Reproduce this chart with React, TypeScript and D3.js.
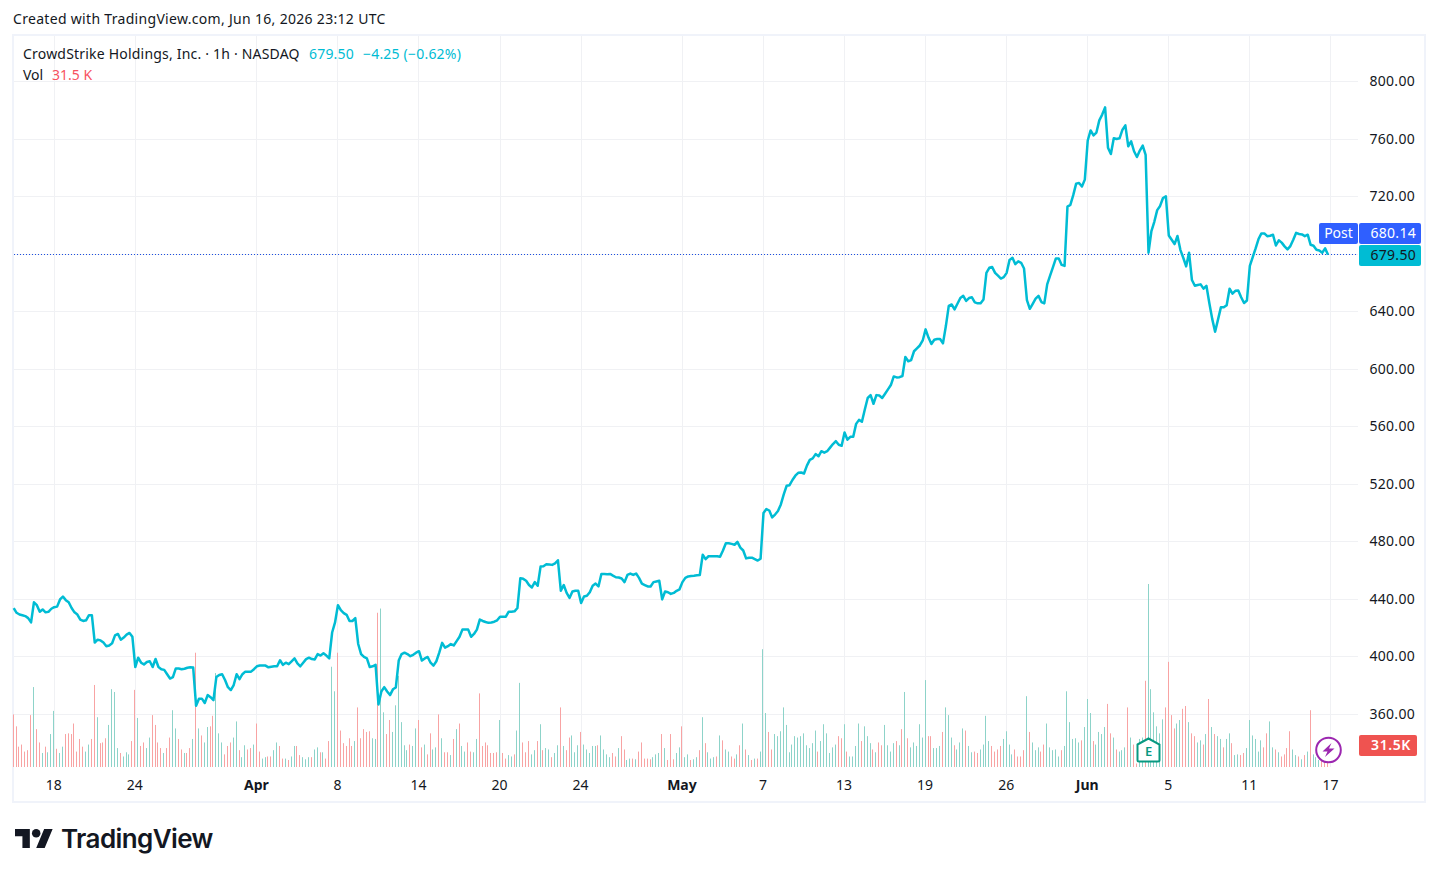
import * as d3 from "d3";

const W = 1438, H = 877;
const FONT = "'Noto Sans', sans-serif";
const INK = "#131722";
const TEAL = "#00bcd4";

// one row per session, 7 hourly bars each, starting Mar 16
const closes = [
  434, 430.7, 429.5, 429, 428.4, 427, 424,
  438, 436, 431.4, 433, 431, 431.4, 433.5,
  434.6, 435, 440, 442, 439.5, 438, 434,
  431, 429.5, 426, 425, 425.5, 429, 429,
  410, 412, 411.5, 410, 407.5, 408, 409.5,
  415, 416, 412, 413.5, 415.5, 416.7, 414,
  393, 399.5, 396, 394.8, 396.5, 397, 393,
  398.6, 393, 391.5, 391, 388, 385, 386,
  392, 392, 391.5, 391.8, 392.5, 392.8, 392.6,
  366, 371, 371, 368, 373.5, 372, 370,
  386, 387.5, 388, 384, 379, 377, 380.5,
  388, 384.6, 388, 389.8, 389.8, 389.8, 391.5,
  393.5, 394, 394, 394, 392.8, 393.2, 393.5,
  393.5, 397.7, 394.5, 396, 395, 397, 399,
  395.5, 393.5, 396, 398.5, 399.5, 398.5, 398.3,
  402, 401, 402.5, 401, 399, 417, 424,
  436, 432.5, 430.5, 429.3, 425, 425, 427,
  409, 402, 400, 399, 393, 393.5, 394.6,
  367, 376, 379, 376, 373.5, 377.5, 378.8,
  397.5, 402, 403, 402, 400.5, 401.5, 403,
  404, 397.5, 399, 400, 396, 394, 397,
  403, 409.8, 406.5, 407.5, 409, 408, 411,
  414, 419, 419, 419, 414, 416, 419,
  426, 425, 424.3, 423.7, 424, 424.5, 425.5,
  428, 428, 428, 431.5, 431.5, 431.7, 434,
  454.7, 454.3, 453, 450, 448.3, 452, 449.5,
  462.8, 463, 464.4, 464.3, 464, 465, 467.2,
  446, 450, 444.5, 441, 445.5, 446, 446,
  437.5, 442, 442.5, 445, 449.5, 451, 449,
  457.7, 457.7, 457.5, 457.7, 456.5, 455.4, 455.2,
  454.5, 452, 457, 458, 457, 458, 455,
  451, 450, 449, 449, 452, 452.5, 453,
  440, 445.5, 445, 443.8, 444.5, 446, 447,
  452, 455, 456, 456.3, 456.5, 456.8, 457,
  471, 468, 470, 470, 470, 470, 469.7,
  474, 479, 479, 478.6, 478, 480, 476,
  474, 468.5, 469, 469, 468, 467, 468.3,
  500, 502.8, 501.8, 497, 499, 501.5, 506,
  513, 519, 519.4, 523, 526, 528, 528.2,
  527.5, 533, 537, 538, 541, 539.5, 543,
  542, 543, 545.5, 548, 550, 547.5, 546.8,
  556, 551, 553, 553, 562, 564.8, 563.5,
  572, 580, 582, 576, 582, 581.7, 580,
  583, 586, 589, 595, 594.3, 594.5, 595.3,
  608.5, 605.5, 606.4, 612.5, 614.5, 616.5, 620,
  627.7, 622, 617.5, 620.5, 621, 621, 618,
  630, 644, 645, 641.6, 645.5, 649.5, 651,
  647.5, 649.5, 650, 646.5, 645.8, 645.8, 648.5,
  667, 670.5, 671, 667, 665, 663, 664,
  667, 676, 677.5, 673, 675, 674, 670,
  648, 642, 645.5, 649, 651, 646.7, 645.8,
  659, 665, 671, 677, 677, 672.5, 671.8,
  713, 714.2, 721, 729, 729.5, 727, 731.8,
  759, 766, 762.5, 764.5, 773, 777, 782,
  754, 749.6, 760.6, 760, 760.5, 766.5, 769.5,
  755, 758.4, 751.5, 747.5, 752, 755.5, 749,
  681, 696, 702.5, 710.6, 713.5, 719, 720.2,
  693, 690, 687, 692.6, 683, 677.5, 671.5,
  681, 662, 658, 658.5, 659, 656, 658,
  646, 635, 626, 634.5, 643, 643, 644.5,
  656, 652.5, 654.5, 654.7, 650, 646, 647.8,
  671.8, 678, 684, 690.5, 694.4, 694.4, 692.5,
  692.8, 693.5, 686, 689.6, 688, 685.4, 683.3,
  685.6, 690, 694.8, 694, 693.7, 692.5, 693.5,
  686.5, 685.8, 683, 682.5, 681, 684, 679.5,
];

// thousands of shares
const volumes = [
  75, 58, 29, 32, 22, 24, 74,
  114, 54, 35, 20, 29, 21, 47,
  80, 26, 20, 29, 47, 48, 47,
  62, 22, 40, 29, 22, 32, 40,
  117, 71, 34, 35, 41, 60, 111,
  107, 27, 20, 15, 21, 18, 37,
  110, 70, 30, 35, 27, 42, 74,
  60, 35, 27, 20, 27, 42, 81,
  55, 40, 25, 20, 20, 27, 40,
  163, 55, 45, 35, 57, 58, 73,
  134, 48, 35, 18, 30, 35, 42,
  65, 24, 14, 31, 25, 27, 32,
  62, 22, 12, 14, 15, 15, 24,
  35, 30, 12, 12, 10, 15, 30,
  30, 17, 14, 11, 14, 14, 25,
  28, 21, 21, 12, 37, 143, 108,
  163, 52, 34, 30, 41, 30, 37,
  85, 41, 54, 50, 51, 41, 40,
  220, 226, 78, 47, 67, 50, 88,
  130, 64, 31, 24, 32, 30, 55,
  67, 28, 32, 18, 48, 25, 28,
  75, 41, 21, 21, 17, 40, 54,
  62, 30, 22, 35, 22, 21, 40,
  105, 30, 35, 31, 20, 20, 21,
  67, 20, 12, 17, 15, 18, 52,
  120, 35, 21, 37, 18, 24, 37,
  61, 24, 27, 25, 14, 20, 31,
  85, 30, 24, 42, 45, 21, 31,
  50, 32, 25, 20, 30, 30, 31,
  45, 25, 18, 14, 20, 15, 27,
  44, 25, 10, 12, 12, 11, 22,
  35, 12, 12, 11, 14, 18, 20,
  47, 27, 10, 47, 11, 20, 28,
  58, 14, 18, 10, 11, 14, 24,
  71, 34, 21, 12, 14, 15, 45,
  38, 25, 22, 15, 12, 18, 31,
  62, 25, 17, 10, 12, 12, 22,
  168, 77, 50, 25, 47, 44, 51,
  85, 60, 21, 32, 44, 42, 44,
  48, 31, 27, 34, 52, 22, 37,
  61, 48, 20, 28, 32, 44, 41,
  61, 22, 15, 15, 30, 62, 37,
  58, 44, 34, 25, 21, 35, 31,
  60, 31, 22, 34, 37, 31, 54,
  107, 41, 28, 35, 30, 61, 42,
  124, 44, 44, 27, 27, 30, 50,
  85, 74, 42, 31, 25, 35, 55,
  52, 30, 21, 22, 20, 25, 32,
  73, 37, 30, 22, 25, 30, 40,
  51, 32, 18, 25, 15, 15, 24,
  101, 50, 35, 24, 28, 22, 32,
  62, 28, 24, 25, 15, 24, 30,
  108, 64, 40, 41, 35, 38, 57,
  97, 77, 37, 32, 50, 47, 57,
  90, 48, 42, 25, 22, 24, 28,
  85, 42, 32, 5, 40, 42, 123,
  261, 111, 78, 58, 48, 68, 85,
  150, 74, 55, 62, 67, 83, 87,
  64, 48, 44, 35, 38, 32, 47,
  97, 57, 47, 44, 40, 28, 40,
  48, 34, 17, 18, 17, 20, 27,
  67, 45, 40, 22, 38, 28, 48,
  65, 28, 25, 21, 15, 18, 27,
  51, 25, 17, 15, 11, 17, 22,
  81, 18, 14, 10, 22, 24, 31.5,
];

// r = down bar, g = up bar
const volumeDir = [
  "rrrrrrr", "grrgrgg", "grggrrr", "rrrrggr", "rgrrrgg", "ggrgggr", "rgrrggr", "rrrgrrg", "grrgrrg", "rgrggrr",
  "gggrrrg", "grggrrg", "rrggrrg", "grrgrgg", "rrgggrg", "grgrrgg", "rrrrrrg", "rrrrrgg", "rggrrgg", "ggggrgg",
  "rrgrrgg", "rgrrgrg", "rggrrgg", "rrrrrrr", "grrggrg", "grrrggr", "grggrgg", "rgrrggg", "rgggggr", "ggggrrg",
  "rrggrgr", "rrrrggg", "rgrrrgg", "rggrggr", "grgggrg", "rggrrgr", "grgrgrg", "ggrrggg", "ggggggg", "gggggrg",
  "gggggrr", "grggggr", "gggrgrr", "ggggrgr", "grggggg", "grrgggr", "gggrggg", "rggrrgg", "ggrrrrg", "gggrrrr",
  "grgggrr", "gggggrg", "gggggrg", "ggrgggg", "rrgrggg", "rgrrggr", "ggggggr", "rrrggrr", "grrggrg", "rgrggrg",
  "grggrrg", "gggggrr", "ggrgrrr", "rggrgrg", "rgggrrr",
].join("");

const priceTicks = [800, 760, 720, 640, 600, 560, 520, 480, 440, 400, 360];
const priceGrid = [800, 760, 720, 680, 640, 600, 560, 520, 480, 440, 400, 360];
const timeTickBars = [14, 42, 84, 112, 140, 168, 196, 231, 259, 287, 315, 343, 371, 399, 427, 455];
const timeTickLabels = ["18", "24", "Apr", "8", "14", "20", "24", "May", "7", "13", "19", "26", "Jun", "5", "11", "17"];
const boldLabels = ["Apr", "May", "Jun"];

const lastClose = 679.5;
const postPrice = "680.14";

export default function App() {
  const x = d3.scaleLinear([0, 455], [13.2, 1330.4]);
  const y = d3.scaleLinear([360, 800], [714.5, 81.5]);
  const vol = d3.scaleLinear([0, 261], [767, 584]);

  const line = d3.line<number>().x((_, i) => x(i) + 0.5).y((v) => y(v));
  const lastY = Math.floor(y(lastClose)) + 0.5;

  return (
    <svg width={W} height={H} style={{ position: "absolute", left: 0, top: 0, background: "#fff", fontFamily: FONT }}>
      <text x={13} y={24} fontSize={14} letterSpacing={0.31} fill={INK}>Created with TradingView.com, Jun 16, 2026 23:12 UTC</text>

      {/* chart frame */}
      <rect x={13} y={35} width={1412} height={767} fill="none" stroke="#f0f3fa" strokeWidth={2} />

      {/* grid */}
      {priceGrid.map((p) => (
        <line key={p} x1={14} x2={1358} y1={Math.floor(y(p)) + 0.5} y2={Math.floor(y(p)) + 0.5} stroke="#f0f1f4" />
      ))}
      {timeTickBars.map((b) => (
        <line key={b} x1={Math.floor(x(b) + 0.5) + 0.5} x2={Math.floor(x(b) + 0.5) + 0.5} y1={36} y2={767} stroke="#f0f1f4" />
      ))}

      {/* volume */}
      {volumes.map((v, i) => (
        <rect
          key={i}
          x={Math.floor(x(i))}
          y={vol(v)}
          width={1}
          height={767 - vol(v)}
          fill={volumeDir[i] === "g" ? "#8dd3c9" : "#f8a3a3"}
        />
      ))}

      {/* last price line */}
      <line x1={14} x2={1358} y1={lastY} y2={lastY} stroke="#1c4fe0" strokeDasharray="1 2" />

      <path d={line(closes) ?? ""} fill="none" stroke={TEAL} strokeWidth={2.5} strokeLinejoin="round" />

      {/* legend */}
      <text x={23} y={59} fontSize={14} letterSpacing={0.2} fill={INK}>CrowdStrike Holdings, Inc. · 1h · NASDAQ</text>
      <text x={309} y={59} fontSize={14} letterSpacing={0.2} fill={TEAL}>679.50</text>
      <text x={363} y={59} fontSize={14} letterSpacing={0.2} fill={TEAL}>−4.25 (−0.62%)</text>
      <text x={23} y={80} fontSize={14} fill={INK}>Vol</text>
      <text x={52} y={80} fontSize={14} fill="#f7525f">31.5 K</text>

      {/* price axis */}
      {priceTicks.map((p) => (
        <text key={p} x={1415} y={y(p) + 4.5} fontSize={14} letterSpacing={0.3} fill={INK} textAnchor="end">{p.toFixed(2)}</text>
      ))}

      {/* time axis */}
      {timeTickBars.map((b, i) => (
        <text
          key={b}
          x={x(b)}
          y={790}
          fontSize={14}
          fill={INK}
          textAnchor="middle"
          fontWeight={boldLabels.includes(timeTickLabels[i]) ? 700 : 400}
        >
          {timeTickLabels[i]}
        </text>
      ))}

      {/* price labels */}
      <rect x={1319} y={223} width={39} height={21} rx={2} fill="#2f5fff" />
      <text x={1338.5} y={238} fontSize={14} fill="#fff" textAnchor="middle">Post</text>
      <rect x={1359} y={223} width={62} height={21} rx={2} fill="#2f5fff" />
      <text x={1416} y={238} fontSize={14} letterSpacing={0.3} fill="#fff" textAnchor="end">{postPrice}</text>
      <rect x={1359} y={245} width={62} height={21} rx={2} fill={TEAL} />
      <text x={1416} y={260} fontSize={14} letterSpacing={0.3} fill={INK} textAnchor="end">{lastClose.toFixed(2)}</text>
      <rect x={1359} y={735} width={58} height={21} rx={2} fill="#ef5350" />
      <text x={1411} y={750} fontSize={14} letterSpacing={0.6} fill="#fff" textAnchor="end" fontWeight={600}>31.5K</text>

      {/* earnings marker */}
      <g transform="translate(1148.5,750)">
        <path d="M-11 -5.5 L0 -11.5 L11 -5.5 L11 10 Q11 11.5 9.5 11.5 L-9.5 11.5 Q-11 11.5 -11 10 Z" fill="#fff" stroke="#089981" strokeWidth={2} />
        <text x={0} y={5.5} fontSize={13} fontWeight={600} fill="#089981" textAnchor="middle">E</text>
      </g>

      {/* dividends/news bolt marker */}
      <g transform="translate(1328.5,750)">
        <circle r={12.3} fill="#fff" stroke="#9c27b0" strokeWidth={2} />
        <path d="M3 -7 L-6 1.5 L-1 1.5 L-3.5 7 L6 -1.5 L0.5 -1.5 Z" fill="#9c27b0" />
      </g>

      {/* logo */}
      <g transform="translate(15,824.7) scale(1.06)" fill="#131722">
        <path d="M14 22H7V11H0V4h14v18zM28 22h-8l7.5-18h8L28 22z" />
        <circle cx={20} cy={8} r={4} />
      </g>
      <text x={61} y={848} fontFamily="Inter, sans-serif" fontSize={26} fontWeight={600} letterSpacing={-0.6} fill="#131722">TradingView</text>
    </svg>
  );
}
